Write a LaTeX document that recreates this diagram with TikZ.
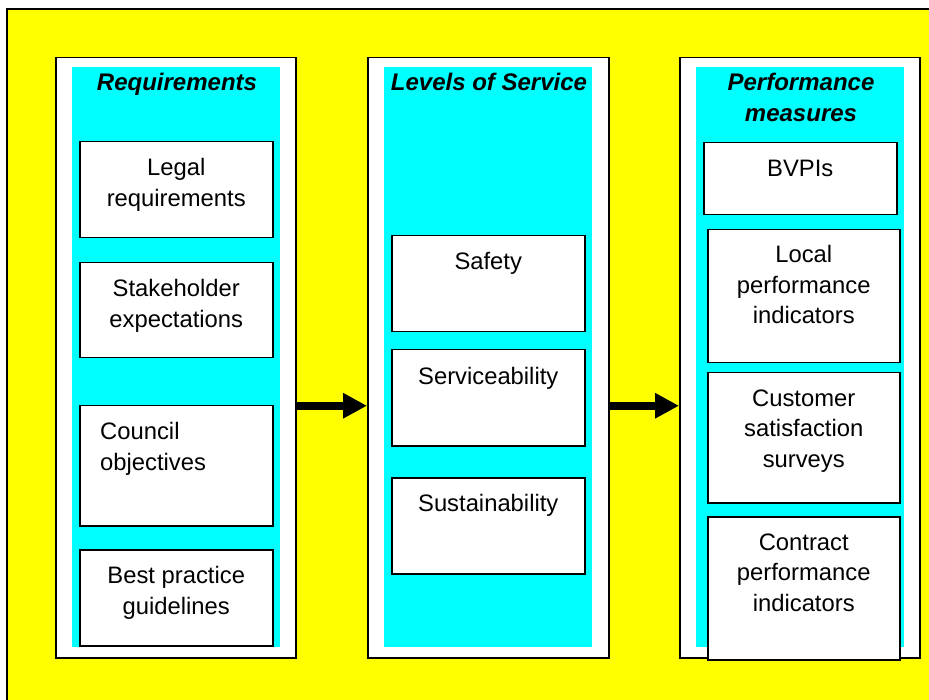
\documentclass[tikz,border=0pt]{standalone}
\usepackage{fontspec}
\setmainfont{Liberation Sans}
\usetikzlibrary{arrows.meta}
\definecolor{bgyellow}{HTML}{FFFF00}
\definecolor{panelcyan}{HTML}{00FFFF}
\begin{document}
\begin{tikzpicture}[x=1pt,y=-1pt,
  colbox/.style={draw=black, fill=white, line width=1.5pt, anchor=north west, inner sep=0pt,
                 minimum width=240pt, minimum height=600pt},
  band/.style={fill=panelcyan, anchor=north west, inner sep=0pt,
               minimum width=208pt, minimum height=580pt},
  itembox/.style={draw=black, fill=white, line width=1.5pt, anchor=north west, inner sep=0pt,
                  minimum width=193pt},
  itemtext/.style={anchor=north, align=center, inner sep=0pt,
                   font=\fontsize{23.8}{30.5}\selectfont},
  headtext/.style={anchor=north, align=center, inner sep=0pt,
                   font=\fontsize{24}{31}\selectfont\bfseries\itshape},
  flow/.style={line width=8pt, -{Triangle[length=24pt,width=24pt]}}]

\clip (0,0) rectangle (929,700);

% yellow background panel
\draw[fill=bgyellow, line width=2pt] (7,9) rectangle (945,715);

% three columns
\node[colbox] (req) at (55,57) {};
\node[band] (reqband) at (72,67) {};
\node[colbox, minimum width=241pt] (los) at (367,57) {};
\node[band] (losband) at (384,67) {};
\node[colbox] (pm) at (679,57) {};
\node[band] (pmband) at (696,67) {};

% column headings
\node[headtext] (reqhead) at (177,72.5) {Requirements};
\node[headtext] (loshead) at (489,72.5) {Levels of Service};
\node[headtext] (pmhead) at (801,72.5) {Performance\\measures};

% requirements
\node[itembox, minimum height=96pt] (legal) at (79,141) {};
\node[itemtext] (legal-t) at ([yshift=-17.5pt]legal.north) {Legal\\requirements};
\node[itembox, minimum height=95pt] (stake) at (79,262) {};
\node[itemtext] (stake-t) at ([yshift=-17.5pt]stake.north) {Stakeholder\\expectations};
\node[itembox, minimum height=120pt] (council) at (79,405) {};
\node[itemtext, anchor=north west, align=left] (council-t)
  at ([xshift=21pt,yshift=-17.5pt]council.north west) {Council\\objectives};
\node[itembox, minimum height=96pt] (best) at (79,549) {};
\node[itemtext] (best-t) at ([yshift=-17.5pt]best.north) {Best practice\\guidelines};

% levels of service
\node[itembox, minimum height=96pt] (safety) at (391,235) {};
\node[itemtext] (safety-t) at ([yshift=-17.5pt]safety.north) {Safety};
\node[itembox, minimum height=96pt] (service) at (391,349) {};
\node[itemtext] (service-t) at ([yshift=-18.5pt]service.north) {Serviceability};
\node[itembox, minimum height=96pt] (sustain) at (391,477) {};
\node[itemtext] (sustain-t) at ([yshift=-17.5pt]sustain.north) {Sustainability};

% performance measures
\node[itembox, minimum height=72pt] (bvpi) at (703,142) {};
\node[itemtext] (bvpi-t) at ([yshift=-17.5pt]bvpi.north) {BVPIs};
\node[itembox, minimum width=192pt, minimum height=133pt] (local) at (707,229) {};
\node[itemtext] (local-t) at ([yshift=-16.5pt]local.north) {Local\\performance\\indicators};
\node[itembox, minimum width=192pt, minimum height=130pt] (customer) at (707,372) {};
\node[itemtext] (customer-t) at ([yshift=-17.5pt]customer.north) {Customer\\satisfaction\\surveys};
\node[itembox, minimum width=192pt, minimum height=143pt] (contract) at (707,516) {};
\node[itemtext] (contract-t) at ([yshift=-17.5pt]contract.north) {Contract\\performance\\indicators};

% flow between columns
\draw[flow] ([yshift=-48pt]req.east) -- ([yshift=-48pt]los.west);
\draw[flow] ([yshift=-48pt]los.east) -- ([yshift=-48pt]pm.west);
\end{tikzpicture}
\end{document}
